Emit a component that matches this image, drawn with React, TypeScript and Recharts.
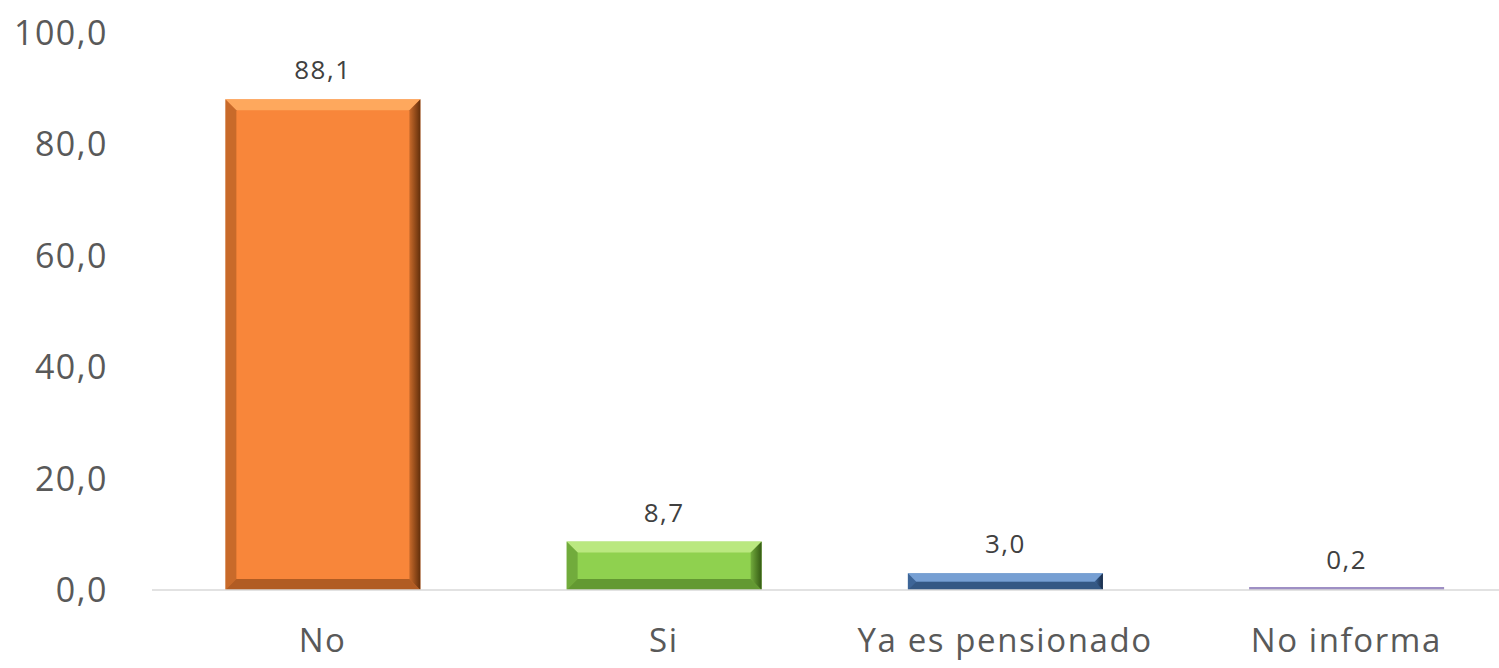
import { BarChart, Bar, XAxis, YAxis, Cell, LabelList } from 'recharts';

if (typeof document !== 'undefined') document.body.style.margin = '0';

const categories = ['No', 'Si', 'Ya es pensionado', 'No informa'];
const values = [88.1, 8.7, 3.0, 0.2];
const yTicks = [0, 20, 40, 60, 80, 100];

const palette = [
  { base: '#F8863A', light: '#FFB066', dark: '#5A2A08' },
  { base: '#8FD14F', light: '#C4EE8C', dark: '#2F5410' },
  { base: '#4F81BD', light: '#7FA6D8', dark: '#14253F' },
  { base: '#9E8FC4', light: '#C9BEE0', dark: '#6B5A8E' },
];

const data = categories.map((name, i) => ({ name, value: values[i], idx: i }));

const fmt = (v: number) => v.toFixed(1).replace('.', ',');

const FONT = '"Open Sans", sans-serif';

function BevelBar(props: any) {
  const { x, y, width, height, payload } = props;
  const c = palette[payload.idx];
  if (height <= 0) return null;
  if (height < 4) {
    const h = Math.max(height, 3);
    return <rect x={x} y={y + height - h} width={width} height={h} fill={c.base} />;
  }
  const b = Math.min(11, height / 2);
  const x2 = x + width;
  const y2 = y + height;
  const gid = `side-${payload.idx}`;
  return (
    <g>
      <defs>
        <linearGradient id={gid} x1="0" y1="0" x2="1" y2="0">
          <stop offset="0%" stopColor={c.dark} stopOpacity={0.3} />
          <stop offset="100%" stopColor={c.dark} stopOpacity={0.95} />
        </linearGradient>
      </defs>
      <rect x={x} y={y} width={width} height={height} fill={c.base} />
      <polygon points={`${x},${y} ${x2},${y} ${x2 - b},${y + b} ${x + b},${y + b}`} fill={c.light} opacity={0.8} />
      <polygon points={`${x2},${y} ${x2},${y2} ${x2 - b},${y2 - b} ${x2 - b},${y + b}`} fill={`url(#${gid})`} />
      <polygon points={`${x},${y2} ${x2},${y2} ${x2 - b},${y2 - b} ${x + b},${y2 - b}`} fill={c.dark} opacity={0.45} />
      <polygon points={`${x},${y} ${x + b},${y + b} ${x + b},${y2 - b} ${x},${y2}`} fill={c.dark} opacity={0.3} />
    </g>
  );
}

export default function App() {
  return (
    <div style={{ width: 1499, height: 668, background: '#fff', overflow: 'hidden' }}>
      <BarChart
        width={1499}
        height={668}
        data={data}
        margin={{ top: 33, right: -18, left: 0, bottom: 0 }}
        barCategoryGap="21.5%"
      >
        <XAxis
          dataKey="name"
          height={78}
          axisLine={{ stroke: '#D9D9D9', strokeWidth: 1.5 }}
          tickLine={false}
          tick={{ fontSize: 33, fill: '#595959', fontFamily: FONT, letterSpacing: 1.6 }}
          tickMargin={33}
          interval={0}
        />
        <YAxis
          domain={[0, 100]}
          ticks={yTicks}
          width={152}
          axisLine={false}
          tickLine={false}
          tickMargin={38}
          tickFormatter={fmt}
          tick={{ fontSize: 34, fill: '#595959', fontFamily: FONT, letterSpacing: 1.5 }}
        />
        <Bar dataKey="value" isAnimationActive={false} shape={<BevelBar />}>
          {data.map((d) => (
            <Cell key={d.name} fill={palette[d.idx].base} />
          ))}
          <LabelList
            dataKey="value"
            position="top"
            offset={20}
            formatter={(v: any) => fmt(Number(v))}
            style={{ fontSize: 26, fill: '#404040', fontFamily: FONT, letterSpacing: 1.5 }}
          />
        </Bar>
      </BarChart>
    </div>
  );
}
